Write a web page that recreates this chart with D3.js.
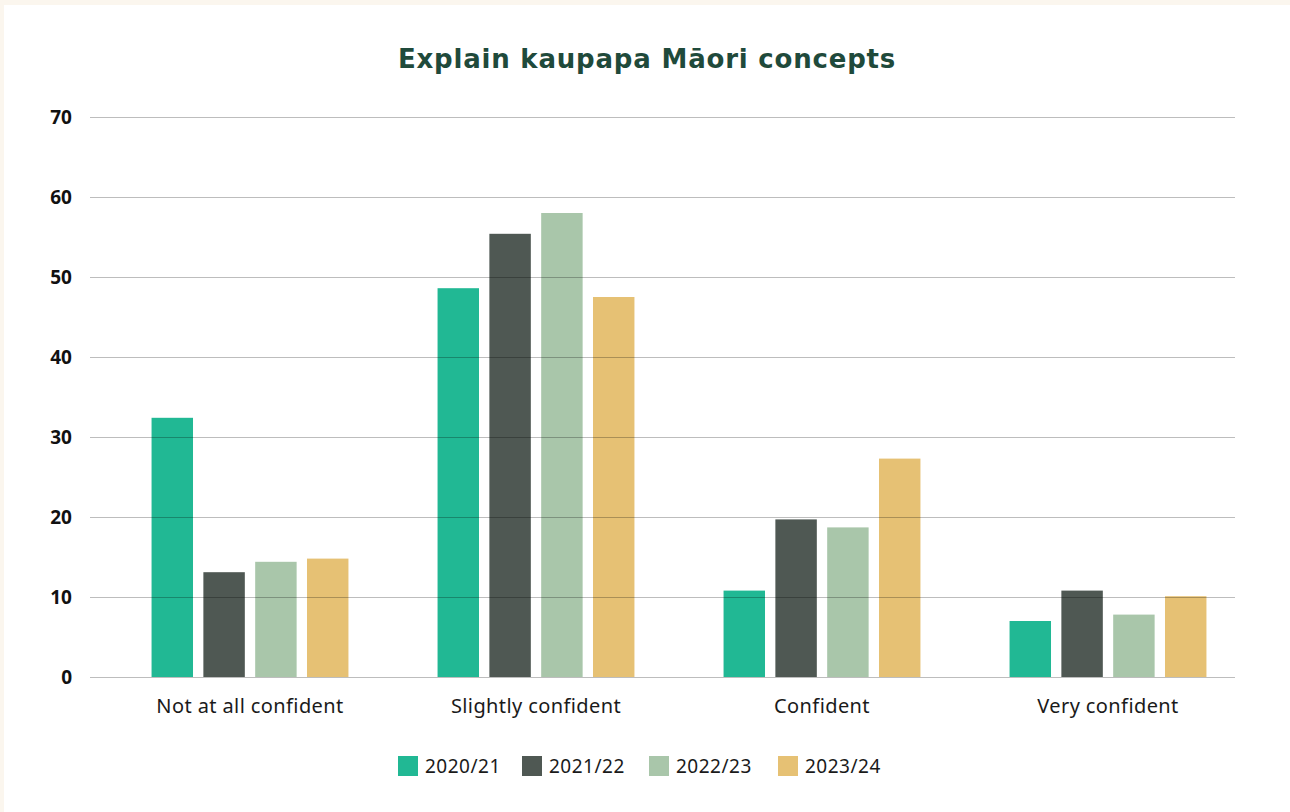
<!DOCTYPE html>
<html>
<head>
<meta charset="utf-8">
<script src="https://cdn.jsdelivr.net/npm/d3@7"></script>
<style>
  html, body { margin: 0; padding: 0; background: #fbf6ee; }
  svg { display: block; }
</style>
</head>
<body>
<div id="chart"></div>
<script>
// chart data
var categories = ["Not at all confident", "Slightly confident", "Confident", "Very confident"];
var years = ["2020/21", "2021/22", "2022/23", "2023/24"];
var v2020 = [32.4, 48.6, 10.8, 7.0];
var v2021 = [13.1, 55.4, 19.7, 10.8];
var v2022 = [14.4, 58.0, 18.7, 7.8];
var v2023 = [14.8, 47.5, 27.3, 10.1];
var yTicks = [0, 10, 20, 30, 40, 50, 60, 70];
var colors = ["#21b894", "#4f5853", "#a9c6aa", "#e6c174"];

var series = [v2020, v2021, v2022, v2023];

var width = 1290, height = 812;

var svg = d3.select("#chart")
    .append("svg")
    .attr("width", width)
    .attr("height", height);

// white card over cream background
svg.append("rect")
    .attr("x", 4)
    .attr("y", 5)
    .attr("width", width)
    .attr("height", height)
    .attr("fill", "#ffffff");

svg.append("text")
    .attr("x", 647)
    .attr("y", 68)
    .attr("text-anchor", "middle")
    .style("font-family", "'DejaVu Sans', Inter, sans-serif")
    .style("font-weight", 700)
    .style("font-size", "26px")
    .style("letter-spacing", "0.8px")
    .style("fill", "#1f4a3b")
    .text("Explain kaupapa Māori concepts");

var y = d3.scaleLinear()
    .domain([0, 70])
    .range([677, 117]);

var x0 = d3.scaleBand()
    .domain(categories)
    .range([107, 1251])
    .paddingInner(0)
    .paddingOuter(0);

var x1 = d3.scaleBand()
    .domain(years)
    .range([0, x0.bandwidth()])
    .paddingInner(0.2)
    .paddingOuter(0.86);

// bars
var groups = svg.selectAll("g.group")
    .data(categories)
    .enter()
    .append("g")
    .attr("class", "group")
    .attr("transform", function(d) { return "translate(" + x0(d) + ",0)"; });

groups.selectAll("rect")
    .data(function(d, i) {
        return years.map(function(yr, j) { return { year: yr, value: series[j][i], color: colors[j] }; });
    })
    .enter()
    .append("rect")
    .attr("x", function(d) { return x1(d.year); })
    .attr("y", function(d) { return y(d.value); })
    .attr("width", x1.bandwidth())
    .attr("height", function(d) { return y(0) - y(d.value); })
    .attr("fill", function(d) { return d.color; });

// gridlines drawn over the bars
var yAxis = d3.axisLeft(y)
    .tickValues(yTicks)
    .tickSize(-(1235 - 90))
    .tickPadding(18);

var gAxis = svg.append("g")
    .attr("transform", "translate(90,0)")
    .call(yAxis);

gAxis.select(".domain").remove();
gAxis.selectAll(".tick line")
    .attr("stroke", "#000")
    .attr("stroke-opacity", 0.26);
gAxis.selectAll(".tick text")
    .style("font-family", "'Noto Sans', sans-serif")
    .style("font-weight", 700)
    .style("font-size", "19px")
    .style("fill", "#111");

// category labels
var xAxis = d3.axisBottom(x0).tickSize(0).tickPadding(22);
var gx = svg.append("g")
    .attr("transform", "translate(0,677)")
    .call(xAxis);
gx.select(".domain").remove();
gx.selectAll(".tick text")
    .style("font-family", "'Noto Sans', sans-serif")
    .style("font-size", "20px")
    .style("letter-spacing", "0.4px")
    .style("fill", "#1a1a1a");

// legend
var legendX = [398, 522, 649, 778];
var legend = svg.selectAll("g.legend")
    .data(years)
    .enter()
    .append("g")
    .attr("class", "legend")
    .attr("transform", function(d, i) { return "translate(" + legendX[i] + ",756)"; });

legend.append("rect")
    .attr("width", 20)
    .attr("height", 20)
    .attr("fill", function(d, i) { return colors[i]; });

legend.append("text")
    .attr("x", 27)
    .attr("y", 10)
    .attr("dy", "0.35em")
    .style("font-family", "'Noto Sans', sans-serif")
    .style("font-size", "19px")
    .style("letter-spacing", "0.5px")
    .style("fill", "#1a1a1a")
    .text(function(d) { return d; });
</script>
</body>
</html>
